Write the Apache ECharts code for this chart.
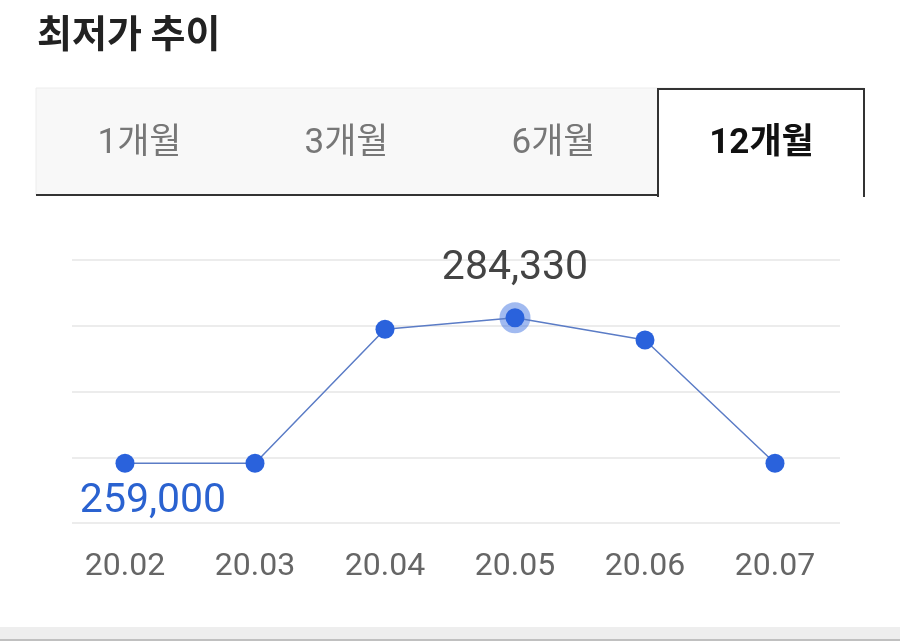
<!DOCTYPE html>
<html><head><meta charset="utf-8">
<script src="https://cdn.jsdelivr.net/npm/echarts@6/dist/echarts.min.js"></script>
<style>html,body{margin:0;padding:0;background:#fff}#c{width:900px;height:641px}</style>
</head><body><div id="c"></div>
<script>
const titleText = '최저가 추이';
const tabLabels = ['1개월', '3개월', '6개월', '12개월'];
const selectedTab = 3;
const categories = ['20.02', '20.03', '20.04', '20.05', '20.06', '20.07'];
const prices = [259000, 259000, 282310, 284330, 280450, 259000];

const FONT = 'Roboto, "Noto Sans CJK KR", sans-serif';
const maxV = Math.max(...prices), minV = Math.min(...prices);
const maxI = prices.indexOf(maxV), minI = prices.indexOf(minV);
const fmt = v => v.toLocaleString('en-US');

const lineData = prices.map((v, i) => {
  const d = { value: v };
  if (i === maxI) {
    d.label = { show: true, position: 'top', distance: 19, color: '#444', fontSize: 41, fontFamily: FONT, formatter: p => fmt(p.value) };
  } else if (i === minI) {
    d.label = { show: true, position: 'bottom', distance: 8, offset: [28, 0], color: '#2a62d0', fontSize: 41, fontFamily: FONT, formatter: p => fmt(p.value) };
  }
  return d;
});
const haloData = prices.map((v, i) => i === maxI ? [i, v] : null).filter(Boolean);

// tab graphics
const tabX0 = 36, tabW = 207, tabTop = 88, tabBottom = 195;
const g = [];
g.push({ type: 'text', left: 37, top: 14, style: { text: titleText, font: 'bold 38px "Noto Sans CJK KR", sans-serif', fill: '#222' } });
g.push({ type: 'rect', shape: { x: tabX0, y: tabTop, width: tabW * 4, height: tabBottom - tabTop }, style: { fill: '#f8f8f8', stroke: '#ececec', lineWidth: 1 } });
g.push({ type: 'line', shape: { x1: tabX0, y1: tabBottom, x2: tabX0 + tabW * selectedTab + 1, y2: tabBottom }, style: { stroke: '#333', lineWidth: 2 } });
const sx = tabX0 + tabW * selectedTab + 1;
g.push({ type: 'rect', shape: { x: sx, y: tabTop, width: tabW, height: tabBottom - tabTop + 2 }, style: { fill: '#fff' } });
g.push({ type: 'polyline', shape: { points: [[sx, tabBottom + 2], [sx, tabTop + 1], [sx + tabW - 1, tabTop + 1], [sx + tabW - 1, tabBottom + 2]] }, style: { stroke: '#333', lineWidth: 2, fill: null } });
tabLabels.forEach((t, i) => {
  g.push({ type: 'text', x: tabX0 + tabW * i + tabW / 2 + (i === selectedTab ? 1 : 0), y: 144, style: { text: t, fontFamily: FONT, fontSize: 35, fontWeight: i === selectedTab ? 'bold' : 'normal', fill: i === selectedTab ? '#111' : '#777', textAlign: 'center', textVerticalAlign: 'middle' } });
});
g.push({ type: 'rect', shape: { x: 0, y: 627, width: 900, height: 14 }, style: { fill: '#eeeeee' } });
g.push({ type: 'line', shape: { x1: 0, y1: 640, x2: 900, y2: 640 }, style: { stroke: '#b0b0b0', lineWidth: 1.5 } });

const chart = echarts.init(document.getElementById('c'), null, { renderer: 'canvas' });
chart.setOption({
  backgroundColor: '#fff',
  animation: false,
  graphic: g,
  grid: [
    { left: 125, right: 125, top: 260, bottom: 118 },
    { left: 72, right: 60, top: 260, bottom: 118 }
  ],
  xAxis: [
    { type: 'category', gridIndex: 0, data: categories, boundaryGap: false,
      axisLine: { show: false }, axisTick: { show: false },
      axisLabel: { color: '#666', fontSize: 32, fontFamily: FONT, margin: 28 } },
    { type: 'value', gridIndex: 1, show: false, min: 0, max: 1 }
  ],
  yAxis: [
    { type: 'value', gridIndex: 0, min: 248614, max: 294368, show: false, splitLine: { show: false } },
    { type: 'value', gridIndex: 1, min: 0, max: 4, interval: 1,
      axisLine: { show: false }, axisTick: { show: false }, axisLabel: { show: false },
      splitLine: { show: true, lineStyle: { color: '#ececec', width: 2 } } }
  ],
  series: [
    { type: 'scatter', xAxisIndex: 0, yAxisIndex: 0, data: haloData, symbolSize: 31, z: 1,
      itemStyle: { color: 'rgba(42,98,220,0.55)' }, silent: true },
    { type: 'line', xAxisIndex: 0, yAxisIndex: 0, data: lineData, z: 2,
      symbol: 'circle', symbolSize: 19, showSymbol: true,
      lineStyle: { color: '#5b7cc6', width: 1.5 },
      itemStyle: { color: '#2a62dc' } }
  ]
});
</script></body></html>
